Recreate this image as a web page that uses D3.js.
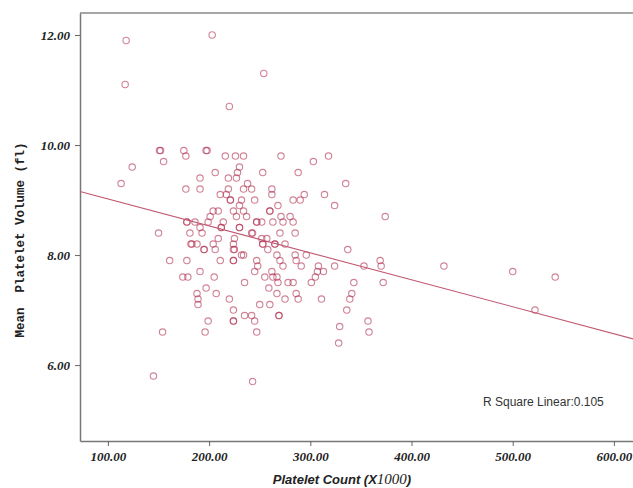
<!DOCTYPE html>
<html>
<head>
<meta charset="utf-8">
<script src="https://cdn.jsdelivr.net/npm/d3@7"></script>
<style>
  body { margin: 0; background: #fff; }
  svg { display: block; }
</style>
</head>
<body>
<div id="chart"></div>
<script>
// platelet count (x1000) and mean platelet volume (fl)
var plateletCount = [
  118, 203, 117, 254, 220,
  151, 152, 175, 197, 198,
  177, 216, 226, 234, 271, 318,
  155, 303,
  124, 230,
  206, 228, 253, 288,
  191, 219, 227,
  113, 238, 335,
  177, 191, 219, 234, 242, 262,
  211, 217, 262, 294, 314,
  221, 221, 232, 245, 283, 290,
  230, 268, 324,
  204, 209, 224, 234, 260, 260,
  201, 227, 237, 271, 280, 374,
  178, 178, 186, 199, 214, 247, 247, 252, 263, 273, 283,
  191, 212, 212, 230, 230,
  150, 181, 193, 242, 243, 270, 285,
  209, 225, 252, 257,
  182, 183, 188, 204, 224, 253, 253, 265, 265, 275,
  195, 195, 206, 224, 225, 258, 337,
  232, 234, 267, 285, 296,
  161, 178, 211, 224, 224, 247, 270, 286, 369,
  248, 273, 291, 308, 324, 353, 370, 432,
  191, 245, 262, 307, 313, 500,
  174, 179, 205, 255, 263, 267, 305, 542,
  235, 268, 278, 283, 301, 343, 372,
  197, 259,
  188, 207, 267, 286, 341,
  189, 220, 275, 288, 311, 339,
  189, 250, 260,
  224, 336, 522,
  235, 242, 269, 269,
  199, 224, 224, 245, 357,
  329,
  154, 196, 247, 358,
  328,
  145, 243
];
var plateletVolume = [
  11.9, 12.0, 11.1, 11.3, 10.7,
  9.9, 9.9, 9.9, 9.9, 9.9,
  9.8, 9.8, 9.8, 9.8, 9.8, 9.8,
  9.7, 9.7,
  9.6, 9.6,
  9.5, 9.5, 9.5, 9.5,
  9.4, 9.4, 9.4,
  9.3, 9.3, 9.3,
  9.2, 9.2, 9.2, 9.2, 9.2, 9.2,
  9.1, 9.1, 9.1, 9.1, 9.1,
  9.0, 9.0, 9.0, 9.0, 9.0, 9.0,
  8.9, 8.9, 8.9,
  8.8, 8.8, 8.8, 8.8, 8.8, 8.8,
  8.7, 8.7, 8.7, 8.7, 8.7, 8.7,
  8.6, 8.6, 8.6, 8.6, 8.6, 8.6, 8.6, 8.6, 8.6, 8.6, 8.6,
  8.5, 8.5, 8.5, 8.5, 8.5,
  8.4, 8.4, 8.4, 8.4, 8.4, 8.4, 8.4,
  8.3, 8.3, 8.3, 8.3,
  8.2, 8.2, 8.2, 8.2, 8.2, 8.2, 8.2, 8.2, 8.2, 8.2,
  8.1, 8.1, 8.1, 8.1, 8.1, 8.1, 8.1,
  8.0, 8.0, 8.0, 8.0, 8.0,
  7.9, 7.9, 7.9, 7.9, 7.9, 7.9, 7.9, 7.9, 7.9,
  7.8, 7.8, 7.8, 7.8, 7.8, 7.8, 7.8, 7.8,
  7.7, 7.7, 7.7, 7.7, 7.7, 7.7,
  7.6, 7.6, 7.6, 7.6, 7.6, 7.6, 7.6, 7.6,
  7.5, 7.5, 7.5, 7.5, 7.5, 7.5, 7.5,
  7.4, 7.4,
  7.3, 7.3, 7.3, 7.3, 7.3,
  7.2, 7.2, 7.2, 7.2, 7.2, 7.2,
  7.1, 7.1, 7.1,
  7.0, 7.0, 7.0,
  6.9, 6.9, 6.9, 6.9,
  6.8, 6.8, 6.8, 6.8, 6.8,
  6.7,
  6.6, 6.6, 6.6, 6.6,
  6.4,
  5.8, 5.7
];
var xTicks = [100, 200, 300, 400, 500, 600];
var yTicks = [6, 8, 10, 12];
// linear fit shown on the chart
var fitIntercept = 9.51, fitSlope = -0.0049;
var rSquare = 0.105;

var width = 633, height = 488;
var plotLeft = 80, plotTop = 13, plotBottom = 441;

var svg = d3.select("#chart").append("svg")
    .attr("width", width)
    .attr("height", height);

var x = d3.scaleLinear().domain([72.4, 625]).range([plotLeft, 639.2]);
var y = d3.scaleLinear().domain([4.62, 12.4]).range([plotBottom, plotTop]);

// frame top line
svg.append("line")
    .attr("x1", plotLeft).attr("x2", width)
    .attr("y1", plotTop).attr("y2", plotTop)
    .attr("stroke", "#8a8a8a").attr("stroke-width", 1.5);

// x axis
var xAxis = svg.append("g")
    .attr("transform", "translate(0," + plotBottom + ")")
    .call(d3.axisBottom(x).tickValues(xTicks).tickSizeInner(5).tickSizeOuter(0)
        .tickPadding(6).tickFormat(d3.format(".2f")));
// y axis
var yAxis = svg.append("g")
    .attr("transform", "translate(" + plotLeft + ",0)")
    .call(d3.axisLeft(y).tickValues(yTicks).tickSizeInner(5).tickSizeOuter(0)
        .tickPadding(5).tickFormat(d3.format(".2f")));

[xAxis, yAxis].forEach(function (g) {
    g.select(".domain").attr("stroke", "#777").attr("stroke-width", 1.5);
    g.selectAll(".tick line").attr("stroke", "#666");
    g.selectAll(".tick text")
        .attr("fill", "#222")
        .style("font-family", "'Liberation Serif', 'Times New Roman', serif")
        .style("font-weight", "bold")
        .style("font-style", "italic")
        .style("font-size", "13px");
});

// points
var points = plateletCount.map(function (d, i) { return [d, plateletVolume[i]]; });
svg.append("g").selectAll("circle")
    .data(points)
    .enter().append("circle")
    .attr("cx", function (d) { return x(d[0]); })
    .attr("cy", function (d) { return y(d[1]); })
    .attr("r", 3.2)
    .attr("fill", "none")
    .attr("stroke", "#b03050")
    .attr("stroke-opacity", 0.6)
    .attr("stroke-width", 1.1);

// fit line
var xd = x.domain();
svg.append("line")
    .attr("x1", x(xd[0])).attr("y1", y(fitIntercept + fitSlope * xd[0]))
    .attr("x2", x(xd[1])).attr("y2", y(fitIntercept + fitSlope * xd[1]))
    .attr("stroke", "#c05870")
    .attr("stroke-width", 1.1);

svg.append("text")
    .attr("x", 483).attr("y", 406)
    .style("font-family", "'Liberation Sans', Arial, sans-serif")
    .style("font-size", "12px")
    .attr("fill", "#333")
    .text("R Square Linear:" + rSquare);

// axis titles
var xt = svg.append("text")
    .attr("x", 342).attr("y", 484)
    .attr("text-anchor", "middle")
    .attr("fill", "#222")
    .style("font-family", "'Liberation Sans', Arial, sans-serif")
    .style("font-weight", "bold")
    .style("font-style", "italic")
    .style("font-size", "13px");
xt.append("tspan").text("Platelet Count (X");
xt.append("tspan")
    .style("font-family", "'Liberation Serif', serif")
    .style("font-weight", "normal")
    .style("font-size", "15px")
    .text("1000");
xt.append("tspan").text(")");

svg.append("text")
    .attr("transform", "translate(24,240) rotate(-90)")
    .attr("text-anchor", "middle")
    .attr("fill", "#222")
    .style("font-family", "'Liberation Mono', 'DejaVu Sans Mono', monospace")
    .style("font-weight", "bold")
    .style("font-size", "12.5px")
    .style("white-space", "pre")
    .text("Mean  Platelet Volume (fl)");
</script>
</body>
</html>
